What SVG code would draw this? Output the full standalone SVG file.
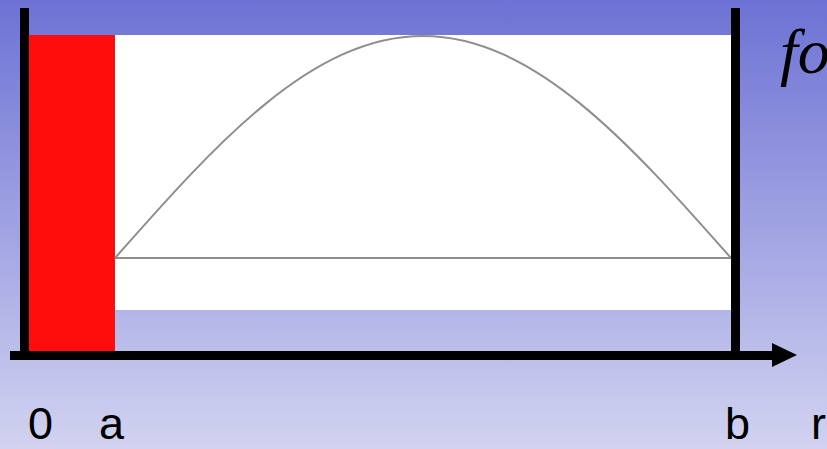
<svg xmlns="http://www.w3.org/2000/svg" width="827" height="449" viewBox="0 0 827 449">
  <defs>
    <linearGradient id="bg" x1="0" y1="0" x2="0" y2="1">
      <stop offset="0" stop-color="#6d72d4"/>
      <stop offset="1" stop-color="#d2d3f0"/>
    </linearGradient>
    <style>
      .lbl { font-family: "Liberation Sans", Arial, sans-serif; font-size: 45px; fill: #000; }
      .math { font-family: "Liberation Serif", "Times New Roman", serif; font-style: italic; font-size: 64px; fill: #000; }
      .bar { fill: #000; }
      .curve { fill: none; stroke: #8e8e8e; stroke-width: 2; }
    </style>
  </defs>
  <rect x="0" y="0" width="827" height="449" fill="url(#bg)"/>
  <g id="white-box"><rect x="115" y="35" width="616" height="275" fill="#fff"/></g>
  <g id="red-region"><rect x="29" y="35" width="86" height="317" fill="#ff0c0c"/></g>
  <g id="curve">
    <path class="curve" d="M115,258 C215.45,144.3 311.65,36 423,36 C534.35,36 630.55,144.3 731,258"/>
    <line class="curve" x1="115" y1="258" x2="731" y2="258"/>
  </g>
  <g id="axes">
    <rect class="bar" x="20" y="8" width="9" height="352"/>
    <rect class="bar" x="731" y="8" width="9" height="352"/>
    <rect class="bar" x="10" y="351" width="765" height="9"/>
    <polygon class="bar" points="772,343 797,355 772,367"/>
  </g>
  <g id="labels">
    <text class="lbl" x="28" y="439">0</text>
    <text class="lbl" x="99" y="439">a</text>
    <text class="lbl" x="725" y="439">b</text>
    <text class="lbl" x="811" y="439">r</text>
    <text class="math" x="780" y="73">fo</text>
  </g>
</svg>
